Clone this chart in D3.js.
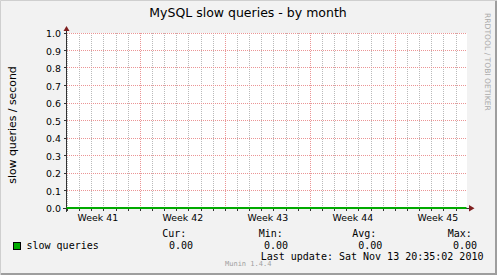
<!DOCTYPE html>
<html lang="en">
<head>
<meta charset="utf-8">
<title>MySQL slow queries - by month</title>
<script src="https://d3js.org/d3.v7.min.js"></script>
<style>
  body { margin: 0; background: #f2f2f2; }
  svg { display: block; }
  text { font-family: "DejaVu Sans", sans-serif; fill: #000; }
  .mono { font-family: "DejaVu Sans Mono", monospace; }
</style>
</head>
<body>
<div id="chart"></div>
<script>
// time window shown on the graph
var graphStart = "2010-10-11T22:00:00Z";
var graphEnd = "2010-11-13T20:35:02Z";

// y axis ticks
var yTicks = [0.0, 0.1, 0.2, 0.3, 0.4, 0.5, 0.6, 0.7, 0.8, 0.9, 1.0];

// week labels and the monday each week starts on
var weekLabels = ["Week 41", "Week 42", "Week 43", "Week 44", "Week 45"];
var weekStarts = ["2010-10-11", "2010-10-18", "2010-10-25", "2010-11-01", "2010-11-08"];

// the series (flat zero for the whole month)
var sampleTimes = ["2010-10-11T22:00:00Z", "2010-10-18", "2010-10-25", "2010-11-01", "2010-11-08", "2010-11-13T20:35:02Z"];
var slowQueries = [0, 0, 0, 0, 0, 0];

// legend
var legendHeads = ["Cur:", "Min:", "Avg:", "Max:"];
var legendValues = [0, 0, 0, 0];

var width = 497, height = 275;
var x0 = 66.5, x1 = 466.5, yBottom = 208.5, yTop = 33.5;

var svg = d3.select("#chart").append("svg")
    .attr("width", width)
    .attr("height", height);

// background + 3d frame
svg.append("rect").attr("width", width).attr("height", height).attr("fill", "#f2f2f2");
svg.append("path").attr("d", "M0.5,275V0.5H497").attr("stroke", "#cfcfcf").attr("fill", "none");
svg.append("path").attr("d", "M1,274H496V1").attr("stroke", "#9e9e9e").attr("stroke-width", 2).attr("fill", "none");

// canvas
svg.append("rect")
    .attr("x", 67).attr("y", 33)
    .attr("width", 400).attr("height", 175)
    .attr("fill", "#ffffff");

var xScale = d3.scaleUtc()
    .domain([new Date(graphStart), new Date(graphEnd)])
    .range([x0, x1]);

var yScale = d3.scaleLinear()
    .domain([0, 1])
    .range([yBottom, yTop]);

function crisp(v) { return Math.floor(v) + 0.5; }

var gridRed = "#eb9595";
var gridGray = "#bababa";

// minor grid: every day
var days = d3.utcDay.range(xScale.domain()[0], xScale.domain()[1]);
svg.append("g").selectAll("line")
    .data(days)
    .enter().append("line")
        .attr("x1", function(d){ return crisp(xScale(d)); })
        .attr("x2", function(d){ return crisp(xScale(d)); })
        .attr("y1", 33).attr("y2", 208)
        .attr("stroke", gridGray)
        .attr("stroke-dasharray", "1,1")
        .attr("shape-rendering", "crispEdges");

// major grid: every week
var mondays = d3.utcMonday.range(xScale.domain()[0], xScale.domain()[1]);
svg.append("g").selectAll("line")
    .data(mondays)
    .enter().append("line")
        .attr("x1", function(d){ return crisp(xScale(d)); })
        .attr("x2", function(d){ return crisp(xScale(d)); })
        .attr("y1", 33).attr("y2", 208)
        .attr("stroke", gridRed)
        .attr("stroke-dasharray", "1,1")
        .attr("shape-rendering", "crispEdges");

// horizontal grid
svg.append("g").selectAll("line")
    .data(yTicks.slice(1))
    .enter().append("line")
        .attr("x1", 67).attr("x2", 467)
        .attr("y1", function(d){ return crisp(yScale(d) - 0.5); })
        .attr("y2", function(d){ return crisp(yScale(d) - 0.5); })
        .attr("stroke", gridRed)
        .attr("stroke-dasharray", "1,1")
        .attr("shape-rendering", "crispEdges");

// y tick labels + ticks
svg.append("g").selectAll("text")
    .data(yTicks)
    .enter().append("text")
        .attr("x", 61)
        .attr("y", function(d){ return yScale(d) + 3.5; })
        .attr("text-anchor", "end")
        .attr("font-size", "9.4px")
        .text(d3.format(".1f"));
svg.append("g").selectAll("line")
    .data(yTicks)
    .enter().append("line")
        .attr("x1", 64).attr("x2", 66)
        .attr("y1", function(d){ return crisp(yScale(d) - 0.5); })
        .attr("y2", function(d){ return crisp(yScale(d) - 0.5); })
        .attr("stroke", "#333");

// x ticks under the axis
svg.append("g").selectAll("line")
    .data(days)
    .enter().append("line")
        .attr("x1", function(d){ return crisp(xScale(d)); })
        .attr("x2", function(d){ return crisp(xScale(d)); })
        .attr("y1", 209).attr("y2", 211)
        .attr("stroke", "#333");

// week labels centred on each week
svg.append("g").selectAll("text")
    .data(weekLabels)
    .enter().append("text")
        .attr("x", function(d, i){
            return xScale(d3.utcHour.offset(new Date(weekStarts[i]), 84));
        })
        .attr("y", 221)
        .attr("text-anchor", "middle")
        .attr("font-size", "9.4px")
        .text(function(d){ return d; });

// axes + arrows
svg.append("line").attr("x1", 66.5).attr("x2", 66.5).attr("y1", 29).attr("y2", 212).attr("stroke", "#333");
svg.append("line").attr("x1", 63).attr("x2", 470).attr("y1", 208.5).attr("y2", 208.5).attr("stroke", "#333");
svg.append("path").attr("d", "M63.5,31L69.5,31L66.5,26Z").attr("fill", "#7f1f1f");
svg.append("path").attr("d", "M469,205L469,211.5L474.5,208.2Z").attr("fill", "#7f1f1f");

// series line
var line = d3.line()
    .x(function(d, i){ return xScale(new Date(sampleTimes[i])); })
    .y(function(d){ return yScale(d) - 0.5; });
svg.append("path")
    .datum(slowQueries)
    .attr("d", line)
    .attr("fill", "none")
    .attr("stroke", "#00aa00")
    .attr("stroke-width", 2);

// title
svg.append("text")
    .attr("x", 248).attr("y", 17)
    .attr("text-anchor", "middle")
    .attr("font-size", "12.5px")
    .text("MySQL slow queries - by month");

// vertical unit label
svg.append("text")
    .attr("transform", "translate(15.5,125) rotate(-90)")
    .attr("text-anchor", "middle")
    .attr("font-size", "10.9px")
    .text("slow queries / second");

// watermark on the right
svg.append("text")
    .attr("transform", "translate(484.5,13) rotate(90)")
    .attr("font-size", "7.6px")
    .style("fill", "#aaaaaa")
    .text("RRDTOOL / TOBI OETIKER");

// legend
var headX = [162.3, 258.8, 352.3, 447.8];
var valX = [169, 264, 358.3, 453];
svg.append("rect")
    .attr("x", 13.5).attr("y", 242.5)
    .attr("width", 7).attr("height", 7)
    .attr("fill", "#00aa00")
    .attr("stroke", "#000");
svg.append("text").attr("class", "mono")
    .attr("x", 26.5).attr("y", 249)
    .attr("font-size", "10px")
    .text("slow queries");
svg.append("g").selectAll("text")
    .data(legendHeads)
    .enter().append("text").attr("class", "mono")
        .attr("x", function(d, i){ return headX[i]; })
        .attr("y", 237)
        .attr("font-size", "10px")
        .text(function(d){ return d; });
svg.append("g").selectAll("text")
    .data(legendValues)
    .enter().append("text").attr("class", "mono")
        .attr("x", function(d, i){ return valX[i]; })
        .attr("y", 249)
        .attr("font-size", "10px")
        .text(d3.format(".2f"));
svg.append("text").attr("class", "mono")
    .attr("x", 260.7).attr("y", 260)
    .attr("font-size", "10px")
    .text("Last update: Sat Nov 13 20:35:02 2010");
svg.append("text").attr("class", "mono")
    .attr("x", 225).attr("y", 266)
    .attr("font-size", "7px")
    .style("fill", "#a0a0a0")
    .text("Munin 1.4.4");
</script>
</body>
</html>
